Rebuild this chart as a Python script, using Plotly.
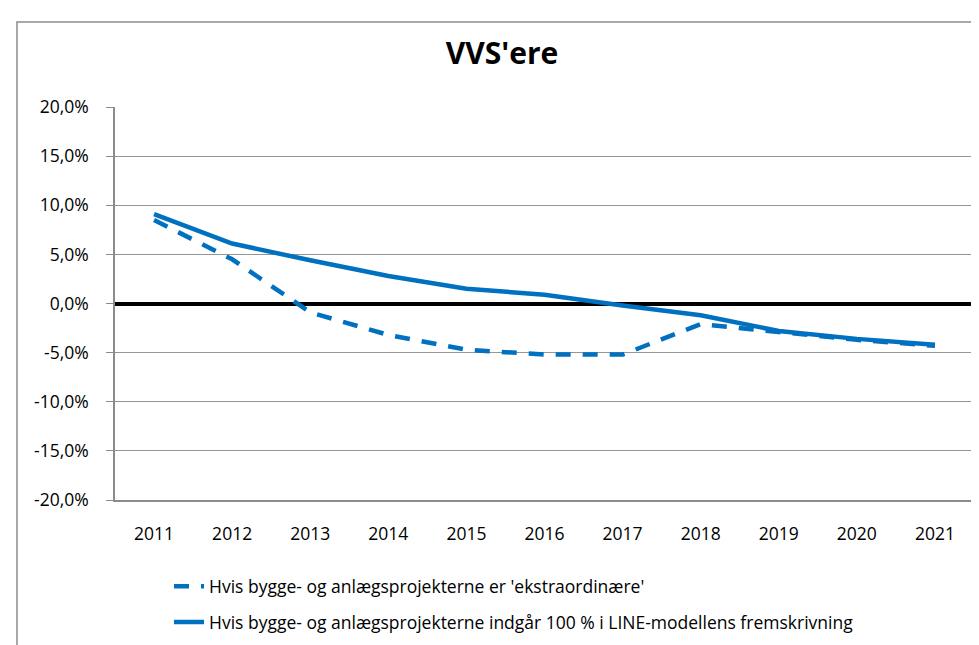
import plotly.graph_objects as go

years = ["2011", "2012", "2013", "2014", "2015", "2016", "2017", "2018", "2019", "2020", "2021"]
extraordinary = [8.5, 4.5, -0.9, -3.2, -4.7, -5.2, -5.2, -2.1, -2.9, -3.7, -4.3]
line_model = [9.1, 6.1, 4.4, 2.8, 1.5, 0.9, -0.2, -1.2, -2.8, -3.6, -4.2]
y_tickvals = [20, 15, 10, 5, 0, -5, -10, -15, -20]
y_ticktext = ["20,0%", "15,0%", "10,0%", "5,0%", "0,0%", "-5,0%", "-10,0%", "-15,0%", "-20,0%"]
name_dashed = "Hvis bygge- og anlægsprojekterne er 'ekstraordinære'"
name_solid = "Hvis bygge- og anlægsprojekterne indgår 100 % i LINE-modellens fremskrivning"
title_text = "VVS'ere"

BLUE = "#0070C0"
FONT = "Open Sans"

fig = go.Figure()
fig.add_trace(go.Scatter(x=years, y=extraordinary, mode="lines", name=name_dashed,
                         legendgroup="a",
                         line=dict(color=BLUE, width=4.5, dash="15px,12px")))
fig.add_trace(go.Scatter(x=years, y=line_model, mode="lines", name=name_solid,
                         legendgroup="b",
                         line=dict(color=BLUE, width=4.5)))

# outer chart frame
L, R, T, B = 107, 966, 99.3, 502.7
W, H = R - L, B - T
fig.add_shape(type="rect", xref="paper", yref="paper",
              x0=(9 - L) / W, x1=(990 - L) / W,
              y0=(B - 660) / H, y1=(B - 12) / H,
              line=dict(color="#8c8c8c", width=1.5), fillcolor="rgba(0,0,0,0)", layer="below")

fig.update_layout(
    width=979, height=645,
    margin=dict(l=L, r=979 - R, t=T, b=645 - B),
    paper_bgcolor="white", plot_bgcolor="white",
    font=dict(family=FONT, size=17.5, color="black"),
    title=dict(text="<b>" + title_text + "</b>", x=(494) / 979, xanchor="center",
               y=1 - 45 / 645, yanchor="middle",
               font=dict(family=FONT, size=30, color="black")),
    showlegend=True,
    legend=dict(x=(161 - L) / W, xanchor="left", y=(B - 573) / H, yanchor="top",
                bgcolor="rgba(0,0,0,0)", tracegroupgap=10,
                font=dict(family=FONT, size=17.5, color="black")),
)
fig.update_xaxes(type="category", range=[-0.5, len(years) - 0.5],
                 showgrid=False, showline=True, linecolor="#8c8c8c",
                 linewidth=1.5, ticks="", ticklabelstandoff=17,
                 tickfont=dict(family=FONT, size=17.5, color="black"))
fig.update_yaxes(range=[-20, 20], tickvals=y_tickvals, ticktext=y_ticktext,
                 showgrid=True, gridcolor="#969696", gridwidth=1.3,
                 zeroline=True, zerolinecolor="black", zerolinewidth=3.5,
                 showline=True, linecolor="#8c8c8c", linewidth=1.5,
                 ticks="outside", ticklen=7, tickcolor="#8c8c8c", tickwidth=1.3,
                 ticklabelstandoff=14,
                 tickfont=dict(family=FONT, size=17.5, color="black"))

fig.write_html("out.html")
